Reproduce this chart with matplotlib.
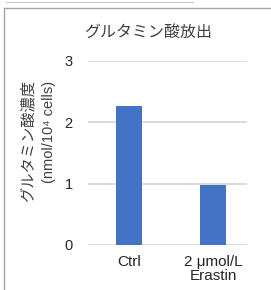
import matplotlib
matplotlib.use("Agg")
import matplotlib.pyplot as plt
from matplotlib.lines import Line2D

categories = ["Ctrl", "2 μmol/L\nErastin"]
values = [2.27, 0.98]
yticks = [0, 1, 2, 3]

title = "グルタミン酸放出"
ylabel_1 = "グルタミン酸濃度"
ylabel_2 = "(nmol/10⁴ cells)"

jp = ["Noto Sans CJK JP", "DejaVu Sans"]
lat = ["Liberation Sans", "DejaVu Sans"]

W, H = 271, 290
fig = plt.figure(figsize=(W / 100, H / 100), dpi=100)

# axes placed in pixel terms
ax = fig.add_axes([88 / W, 45 / H, 159 / W, 184 / H])
x = list(range(len(categories)))
ax.bar(x, values, width=0.312, color="#4472C4", zorder=3)
ax.set_xlim(-0.485, 1.40)
ax.set_ylim(0, 3)
ax.set_yticks(yticks)
ax.set_yticklabels([str(t) for t in yticks], family=lat, fontsize=10.5, color="#262626")
ax.set_xticks(x)
ax.set_xticklabels(categories, family=lat, fontsize=11, color="#262626", linespacing=1.0)
ax.tick_params(axis="both", length=0)
ax.tick_params(axis="y", pad=11)
ax.tick_params(axis="x", pad=7)
ax.grid(axis="y", color="#d9d9d9", linewidth=1.3, zorder=0)
for s in ax.spines.values():
    s.set_visible(False)

fig.text(148.5 / W, 1 - 32.5 / H, title, family=jp, fontsize=11.5,
         ha="center", va="center", color="#404040")
fig.text(28 / W, 1 - 141.5 / H, ylabel_1, family=jp, fontsize=11,
         rotation=90, ha="center", va="center", color="#404040")
fig.text(48.5 / W, 1 - 132 / H, ylabel_2, family=lat, fontsize=10.5,
         rotation=90, ha="center", va="center", color="#404040")

# surrounding frame
fig.add_artist(Line2D([3.5 / W, 1], [1 - 7.5 / H, 1 - 7.5 / H],
                      transform=fig.transFigure, color="#a6a6a6", linewidth=1))
fig.add_artist(Line2D([3.5 / W, 3.5 / W], [0, 1 - 7.5 / H],
                      transform=fig.transFigure, color="#a6a6a6", linewidth=1))
fig.add_artist(Line2D([6 / W, 193 / W], [1 - 2 / H, 1 - 2 / H],
                      transform=fig.transFigure, color="#c8c8c8", linewidth=0.8))

fig.savefig("out.png", dpi=100)
